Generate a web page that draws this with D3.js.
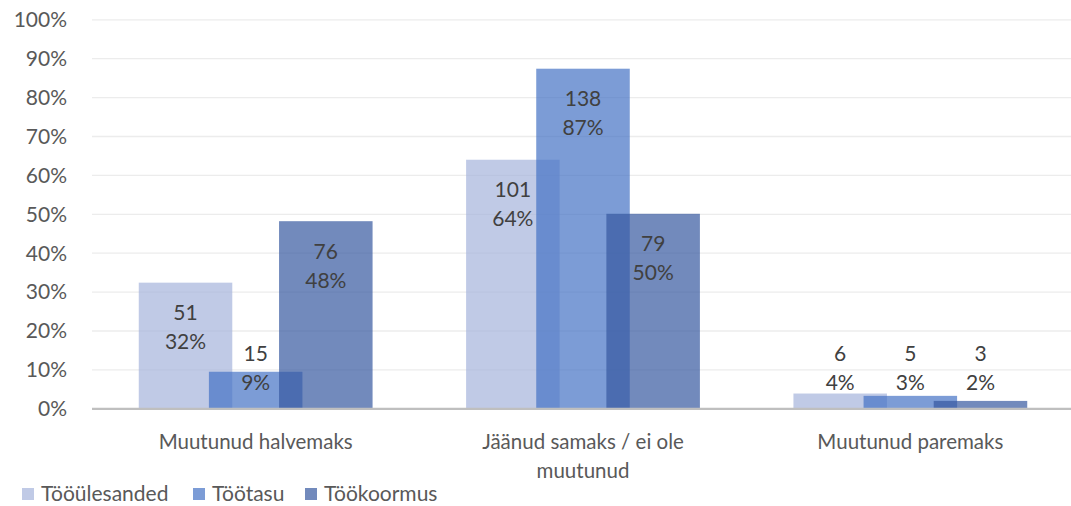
<!DOCTYPE html>
<html>
<head>
<meta charset="utf-8">
<script src="https://cdn.jsdelivr.net/npm/d3@7"></script>
<style>
  body { margin: 0; background: #fff; }
  text { font-family: Lato, "Open Sans", sans-serif; }
</style>
</head>
<body>
<svg id="chart" width="1071" height="506"></svg>
<script>
// categories and series
var categories = ["Muutunud halvemaks", "Jäänud samaks / ei ole muutunud", "Muutunud paremaks"];
var seriesNames = ["Tööülesanded", "Töötasu", "Töökoormus"];
// counts shown in labels
var countsTooulesanded = [51, 101, 6];
var countsTootasu = [15, 138, 5];
var countsTookoormus = [76, 79, 3];
// shares (bar heights)
var shareTooulesanded = [0.323, 0.639, 0.038];
var shareTootasu = [0.094, 0.873, 0.032];
var shareTookoormus = [0.481, 0.500, 0.019];
var yTicks = [0, 0.1, 0.2, 0.3, 0.4, 0.5, 0.6, 0.7, 0.8, 0.9, 1.0];

var colors = ["#a5b3db", "#4472c4", "#36599f"];

var counts = [countsTooulesanded, countsTootasu, countsTookoormus];
var shares = [shareTooulesanded, shareTootasu, shareTookoormus];

var svg = d3.select("#chart");

var x = d3.scaleBand()
    .domain(categories)
    .range([92, 1074])
    .padding(0);

var y = d3.scaleLinear()
    .domain([0, 1])
    .range([408.3, 19.3]);

var barW = x.bandwidth() / 3.5;   // gap 100%, overlap 25%
var step = barW * 0.75;
var clusterOffset = (x.bandwidth() - (barW + 2 * step)) / 2;

function barX(cat, s) { return x(cat) + clusterOffset + s * step; }

// gridlines
svg.append("g")
    .attr("transform", "translate(92,0)")
    .call(d3.axisLeft(y).tickValues(yTicks).tickSize(-(1071 - 92)).tickFormat(""))
    .call(function(g) {
        g.select(".domain").remove();
        g.selectAll("line").attr("stroke", "#ececec").attr("stroke-width", 1.3);
    });

// y tick labels
svg.append("g")
    .attr("transform", "translate(67,0)")
    .call(d3.axisLeft(y).tickValues(yTicks).tickSize(0).tickPadding(0).tickFormat(d3.format(".0%")))
    .call(function(g) {
        g.select(".domain").remove();
        g.selectAll("text")
            .attr("fill", "#595959")
            .style("font-size", "21px")
            .attr("dy", "0.35em");
    });

// bars
var rows = [];
seriesNames.forEach(function(name, s) {
    categories.forEach(function(cat, i) {
        rows.push({ s: s, cat: cat, share: shares[s][i], count: counts[s][i] });
    });
});

svg.append("g").selectAll("rect")
    .data(rows)
    .enter()
    .append("rect")
        .attr("x", function(d) { return barX(d.cat, d.s); })
        .attr("y", function(d) { return y(d.share); })
        .attr("width", barW)
        .attr("height", function(d) { return y(0) - y(d.share); })
        .attr("fill", function(d) { return colors[d.s]; })
        .attr("fill-opacity", 0.7);

// x axis line
svg.append("line")
    .attr("x1", 92).attr("x2", 1071)
    .attr("y1", y(0) + 0.5).attr("y2", y(0) + 0.5)
    .attr("stroke", "#bfbfbf")
    .attr("stroke-width", 2.2);

// data labels (count + percent), inside end, clamped to bottom
var labels = svg.append("g").selectAll("text")
    .data(rows)
    .enter()
    .append("text")
        .attr("text-anchor", "middle")
        .attr("fill", "#404040")
        .style("font-size", "21px")
        .attr("transform", function(d) {
            var cy = Math.min(y(d.share) + 30, y(0) - 55);
            return "translate(" + (barX(d.cat, d.s) + barW / 2) + "," + cy + ")";
        });
labels.append("tspan").attr("x", 0).attr("dy", "0.35em")
    .text(function(d) { return d.count; });
labels.append("tspan").attr("x", 0).attr("dy", 29)
    .text(function(d) { return Math.round(d.share * 100) + "%"; });

// category labels
var catLines = {
    "Muutunud halvemaks": ["Muutunud halvemaks"],
    "Jäänud samaks / ei ole muutunud": ["Jäänud samaks / ei ole", "muutunud"],
    "Muutunud paremaks": ["Muutunud paremaks"]
};
var catText = svg.append("g").selectAll("text")
    .data(categories)
    .enter()
    .append("text")
        .attr("text-anchor", "middle")
        .attr("fill", "#595959")
        .style("font-size", "20.5px")
        .attr("transform", function(d) { return "translate(" + (x(d) + x.bandwidth() / 2) + ",442)"; });
catText.selectAll("tspan")
    .data(function(d) { return catLines[d]; })
    .enter()
    .append("tspan")
        .attr("x", 0)
        .attr("dy", function(d, i) { return i === 0 ? "0.35em" : 29; })
        .text(function(d) { return d; });

// legend
var legendX = [22, 193, 305];
var legend = svg.append("g").selectAll("g")
    .data(seriesNames)
    .enter()
    .append("g")
        .attr("transform", function(d, i) { return "translate(" + legendX[i] + ",494)"; });
legend.append("rect")
    .attr("x", 0).attr("y", -6)
    .attr("width", 12).attr("height", 12)
    .attr("fill", function(d, i) { return colors[i]; })
    .attr("fill-opacity", 0.7);
legend.append("text")
    .attr("x", 19)
    .attr("dy", "0.35em")
    .attr("fill", "#595959")
    .style("font-size", "21px")
    .text(function(d) { return d; });
</script>
</body>
</html>
